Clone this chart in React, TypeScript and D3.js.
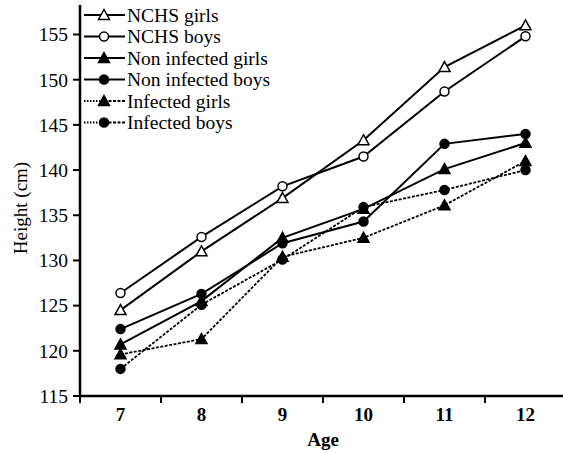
import React from "react";
import * as d3 from "d3";

const ages = ["7", "8", "9", "10", "11", "12"];
const nchsGirls = [124.5, 131.0, 136.9, 143.3, 151.4, 156.0];
const nchsBoys = [126.4, 132.6, 138.2, 141.5, 148.7, 154.8];
const nonInfGirls = [120.7, 125.5, 132.5, 135.7, 140.1, 143.0];
const nonInfBoys = [122.4, 126.3, 131.9, 134.3, 142.9, 144.0];
const infGirls = [119.6, 121.3, 130.4, 132.5, 136.1, 141.0];
const infBoys = [118.0, 125.1, 130.1, 135.9, 137.8, 140.0];
const yTicks = [115, 120, 125, 130, 135, 140, 145, 150, 155];

const seriesList = [
  { name: "NCHS girls", values: nchsGirls, marker: "tri", fill: "white", dashed: false },
  { name: "NCHS boys", values: nchsBoys, marker: "circ", fill: "white", dashed: false },
  { name: "Non infected girls", values: nonInfGirls, marker: "tri", fill: "black", dashed: false },
  { name: "Non infected boys", values: nonInfBoys, marker: "circ", fill: "black", dashed: false },
  { name: "Infected girls", values: infGirls, marker: "tri", fill: "black", dashed: true },
  { name: "Infected boys", values: infBoys, marker: "circ", fill: "black", dashed: true },
];

const FONT = "'Liberation Serif', 'Times New Roman', serif";

function Marker({ type, x, y, fill }: { type: string; x: number; y: number; fill: string }) {
  if (type === "tri") {
    const s = 5.5;
    return (
      <path
        d={`M${x},${y - s} L${x + s},${y + s * 0.8} L${x - s},${y + s * 0.8} Z`}
        fill={fill}
        stroke="black"
        strokeWidth={1.5}
      />
    );
  }
  return <circle cx={x} cy={y} r={4.5} fill={fill} stroke="black" strokeWidth={1.5} />;
}

export default function App() {
  const W = 563, H = 453;
  const x = d3.scaleBand().domain(ages).range([80, 566]);
  const y = d3.scaleLinear().domain([115, 155]).range([396, 34.5]);
  const line = d3
    .line<number>()
    .x((_, i) => (x(ages[i]) as number) + x.bandwidth() / 2)
    .y((d) => y(d));
  const boundaries = ages.map((a) => x(a) as number);

  return (
    <svg width={W} height={H} style={{ position: "absolute", left: 0, top: 0 }} fontFamily={FONT}>
      <rect width={W} height={H} fill="white" />
      {/* axes */}
      <line x1={80} y1={5} x2={80} y2={397} stroke="black" strokeWidth={2.5} />
      <line x1={79} y1={396} x2={566} y2={396} stroke="black" strokeWidth={2.5} />
      {yTicks.map((t) => (
        <g key={t}>
          <line x1={73} x2={80} y1={y(t)} y2={y(t)} stroke="black" strokeWidth={2} />
          <text x={68} y={y(t)} dy="0.35em" textAnchor="end" fontSize={19.5}>
            {t}
          </text>
        </g>
      ))}
      {boundaries.map((b, i) => (
        <line key={i} x1={b} x2={b} y1={396} y2={403} stroke="black" strokeWidth={2} />
      ))}
      {ages.map((a) => (
        <text
          key={a}
          x={(x(a) as number) + x.bandwidth() / 2}
          y={421}
          textAnchor="middle"
          fontSize={19}
          fontWeight="bold"
        >
          {a}
        </text>
      ))}
      <text x={323} y={446} textAnchor="middle" fontSize={19} fontWeight="bold">
        Age
      </text>
      <text
        transform="translate(27,208) rotate(-90)"
        textAnchor="middle"
        fontSize={19}
      >
        Height (cm)
      </text>
      {/* series */}
      {seriesList.map((s) => (
        <g key={s.name}>
          <path
            d={line(s.values) as string}
            fill="none"
            stroke="black"
            strokeWidth={s.dashed ? 1.8 : 2}
            strokeDasharray={s.dashed ? "3,1.5" : undefined}
          />
          {s.values.map((v, i) => (
            <Marker
              key={i}
              type={s.marker}
              x={(x(ages[i]) as number) + x.bandwidth() / 2}
              y={y(v)}
              fill={s.fill}
            />
          ))}
        </g>
      ))}
      {/* legend */}
      {seriesList.map((s, i) => {
        const ly = 15 + i * 21.5;
        return (
          <g key={s.name}>
            <line
              x1={84}
              x2={104}
              y1={ly}
              y2={ly}
              stroke="black"
              strokeWidth={2}
              strokeDasharray={s.dashed ? "1.5,1.5" : undefined}
            />
            <line
              x1={104}
              x2={125}
              y1={ly}
              y2={ly}
              stroke="black"
              strokeWidth={2}
              strokeDasharray={s.dashed ? "3,1.5" : undefined}
            />
            <Marker type={s.marker} x={104} y={ly} fill={s.fill} />
            <text x={127} y={ly} dy="0.35em" fontSize={19.5}>
              {s.name}
            </text>
          </g>
        );
      })}
    </svg>
  );
}
